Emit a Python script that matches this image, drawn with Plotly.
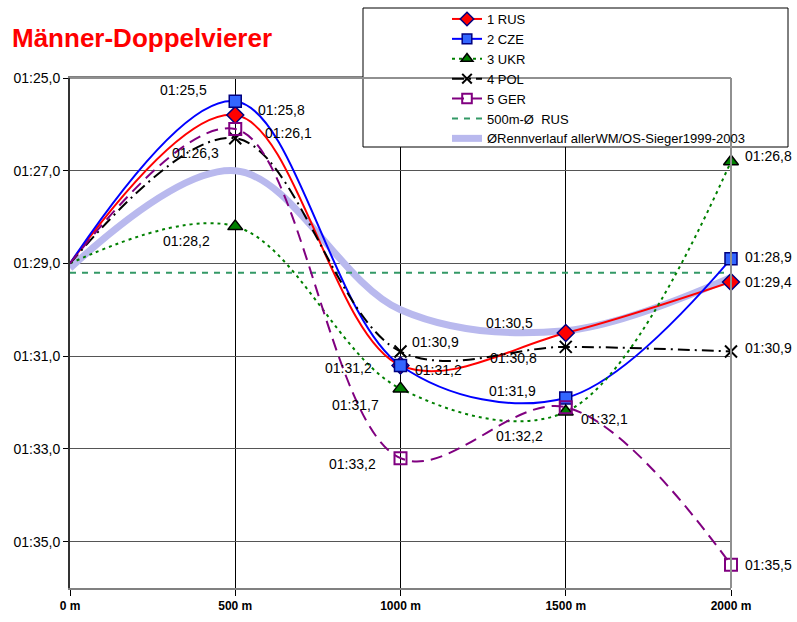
import plotly.graph_objects as go

# Zwischenzeiten je 500 m (Sekunden, 85.5 = 01:25,5)
strecke = [0, 500, 1000, 1500, 2000]
strecke_labels = ["0 m", "500 m", "1000 m", "1500 m", "2000 m"]

rus = [89.0, 85.8, 91.2, 90.5, 89.4]
cze = [89.0, 85.5, 91.2, 91.9, 88.9]
ukr = [89.0, 88.2, 91.7, 92.2, 86.8]
pol = [89.0, 86.3, 90.9, 90.8, 90.9]
ger = [89.0, 86.1, 93.2, 92.1, 95.5]
rus_mittel = [89.2, 89.2, 89.2, 89.2, 89.2]
sieger_verlauf = [89.1, 87.0, 90.0, 90.45, 89.3]

y_ticks = [85, 87, 89, 91, 93, 95]

FONT = "Liberation Sans, Arial, sans-serif"

# Plotbereich in Pixel
L, R, T, B = 70, 731, 78, 588
W, H = R - L, B - T


def fmt(v):
    m = int(v // 60)
    s = v - m * 60
    return "%02d:%02d,%d" % (m, int(s), int(round((s - int(s)) * 10)))


def px(x):
    return (x - L) / W


def py(y):
    return (B - y) / H


fig = go.Figure()

# Durchschnitt aller Sieger (breites Band, unter den anderen Linien)
fig.add_trace(go.Scatter(
    x=strecke, y=sieger_verlauf, mode="lines",
    name="ØRennverlauf allerWM/OS-Sieger1999-2003",
    line=dict(color="#B9B9EE", width=7, shape="spline", smoothing=1),
    legendrank=7
))

fig.add_trace(go.Scatter(
    x=strecke, y=rus_mittel, mode="lines", name="500m-Ø  RUS",
    line=dict(color="#339966", width=2, dash="6px,6px"),
    legendrank=6
))

serien = [
    ("1 RUS", rus, dict(color="#FF0000", width=2),
     dict(symbol="diamond", color="#FF0000", line=dict(color="#000080", width=1.5)), 13),
    ("2 CZE", cze, dict(color="#0000FF", width=2),
     dict(symbol="square", color="#3366FF", line=dict(color="#000080", width=1.5)), 12),
    ("3 UKR", ukr, dict(color="#008000", width=2, dash="3px,4px"),
     dict(symbol="triangle-up", color="#008000", line=dict(color="#000000", width=1.5)), 13),
    ("4 POL", pol, dict(color="#000000", width=2, dash="12px,5px,2px,5px"),
     dict(symbol="x-thin", color="#000000", line=dict(color="#000000", width=2)), 12),
    ("5 GER", ger, dict(color="#800080", width=2, dash="12px,7px"),
     dict(symbol="square-open", color="#800080", line=dict(color="#800080", width=2)), 12),
]

for i, (name, werte, line, marker, size) in enumerate(serien):
    line = dict(line, shape="spline", smoothing=1)
    marker = dict(marker, size=[0, size, size, size, size], opacity=1)
    fig.add_trace(go.Scatter(
        x=strecke, y=werte, mode="lines+markers", name=name,
        line=line, marker=marker, cliponaxis=False, legendrank=i + 1
    ))

# Beschriftungen: (xanchor, xshift, yshift) fuer 500, 1000, 1500, 2000 m
label_pos = {
    "1 RUS": [("left", 21, 5), ("left", 12, -5), ("right", -31, 10), ("left", 12, 0)],
    "2 CZE": [("right", -26, 11), ("right", -27, -3), ("right", -28, 7), ("left", 12, 2)],
    "3 UKR": [("right", -23, -15), ("right", -20, -16), ("right", -21, -24), ("left", 12, 5)],
    "4 POL": [("right", -14, -15), ("left", 9, 10), ("right", -27, -11), ("left", 12, 4)],
    "5 GER": [("left", 28, -4), ("right", -23, -6), ("left", 13, -12), ("left", 12, 0)],
}
for name, werte, _, _, _ in serien:
    for j, (xa, dx, dy) in enumerate(label_pos[name]):
        fig.add_annotation(
            x=strecke[j + 1], y=werte[j + 1], text=fmt(werte[j + 1]),
            showarrow=False, xanchor=xa, yanchor="middle", xshift=dx, yshift=dy,
            font=dict(family=FONT, size=14, color="#000000")
        )

# Titel
fig.add_annotation(
    x=px(10), y=py(38), xref="paper", yref="paper", text="<b>Männer-Doppelvierer</b>",
    showarrow=False, xanchor="left", yanchor="middle",
    font=dict(family=FONT, size=26, color="#FF0000")
)

# Legendenrahmen
fig.add_shape(
    type="rect", xref="paper", yref="paper",
    x0=px(363), x1=px(788), y0=py(147), y1=py(8),
    line=dict(color="#000000", width=1), fillcolor="#FFFFFF", layer="above"
)

fig.update_layout(
    width=797, height=622,
    margin=dict(l=L, r=797 - R, t=T, b=622 - B, autoexpand=False),
    paper_bgcolor="#FFFFFF", plot_bgcolor="#FFFFFF",
    font=dict(family=FONT, size=14, color="#000000"),
    showlegend=True,
    legend=dict(
        x=px(447), y=py(4), xanchor="left", yanchor="top",
        bgcolor="rgba(0,0,0,0)", borderwidth=0,
        font=dict(family=FONT, size=13, color="#000000"),
        traceorder="normal"
    ),
    xaxis=dict(
        range=[0, 2000], tickvals=strecke, ticktext=strecke_labels,
        tickfont=dict(family=FONT, size=12, color="#000000", weight="bold"),
        showgrid=True, gridcolor="#000000", gridwidth=1,
        showline=True, linecolor="#808080", linewidth=2, mirror=True,
        ticks="outside", ticklen=6, tickcolor="#000000", zeroline=False
    ),
    yaxis=dict(
        range=[96, 85], tickvals=y_ticks, ticktext=[fmt(v) for v in y_ticks],
        tickfont=dict(family=FONT, size=14, color="#000000"),
        showgrid=True, gridcolor="#555555", gridwidth=1,
        showline=True, linecolor="#333333", linewidth=2, mirror=False,
        ticks="outside", ticklen=5, tickcolor="#000000", zeroline=False
    ),
)

# rechter und oberer Rahmen grau
fig.add_shape(type="line", xref="paper", yref="paper", x0=1, x1=1, y0=0, y1=1,
              line=dict(color="#909090", width=2))
fig.add_shape(type="line", xref="paper", yref="paper", x0=0, x1=1, y0=1, y1=1,
              line=dict(color="#909090", width=2))

# ohne Seitenrand, damit die Grafik genau ins Fenster passt
fig.write_html("out.html", config={"displayModeBar": False},
               post_script="document.body.style.margin = '0';")
